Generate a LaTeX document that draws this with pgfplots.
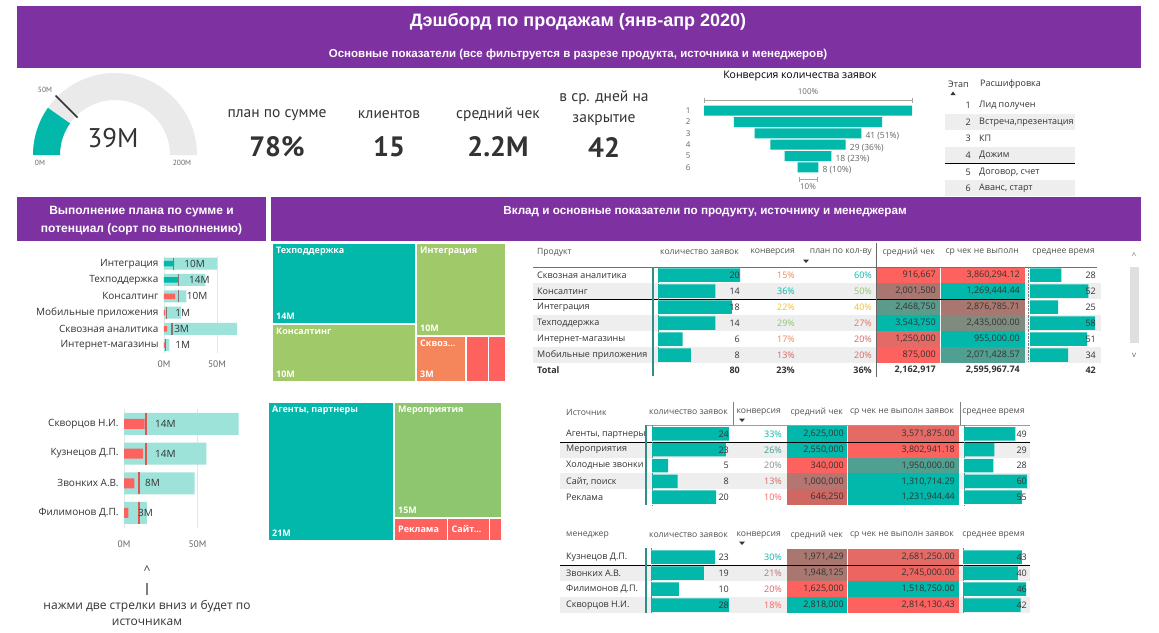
\documentclass[border=0pt]{standalone}
\usepackage{pgfplots}
\usepackage{pgfplotstable}
\pgfplotsset{compat=1.18}
\usetikzlibrary{calc}
\usepackage{fontspec}
\setmainfont{Open Sans}
\newfontfamily\hdr{Liberation Sans}
\newfontfamily\din{PT Sans}
\newcommand\fs[1]{\fontsize{#1}{#1}\selectfont}

\definecolor{pbi}{HTML}{7E31A1}
\definecolor{tl}{HTML}{01B8AA}
\definecolor{ltl}{HTML}{9DE3DA}
\definecolor{rd}{HTML}{FD625E}
\definecolor{grn}{HTML}{A0C96A}
\definecolor{grn2}{HTML}{8DC66F}
\definecolor{orn}{HTML}{F5855A}
\definecolor{rowbg}{HTML}{EEEEEE}
\definecolor{gg}{HTML}{EAEAEA}
\definecolor{txt}{HTML}{333333}
\definecolor{lbl}{HTML}{666666}
\definecolor{cOr}{HTML}{E8875F}
\definecolor{cOr2}{HTML}{E8705C}
\definecolor{cYl}{HTML}{EDC03A}
\definecolor{cGr}{HTML}{8DC66E}
\definecolor{cBr}{HTML}{A9776F}
\definecolor{cBr2}{HTML}{B57570}
\definecolor{cBr3}{HTML}{CF6763}
\definecolor{cGy}{HTML}{808B80}
\definecolor{cTg}{HTML}{5A9B8C}
\definecolor{cTg2}{HTML}{519F90}
\definecolor{cRd2}{HTML}{DA6460}
\definecolor{cRd3}{HTML}{E46A66}
\definecolor{cRd4}{HTML}{EC6560}
\definecolor{tdk}{HTML}{3D9E8F}
\definecolor{cGrey}{HTML}{8A8A8A}
\definecolor{mk}{HTML}{857575}
\definecolor{mkr}{HTML}{E0554F}
\definecolor{sep}{HTML}{2F8F88}

\pgfplotstableread{
s n lab
1 80 {}
2 57 {}
3 41 {41 (51\%)}
4 29 {29 (36\%)}
5 18 {18 (23\%)}
6 8 {8 (10\%)}
}\funnel

\pgfplotsset{
  databar/.style={scale only axis, hide axis, y dir=reverse, xmin=0, ymin=0.5, clip=false, anchor=north west},
  tbar/.style={xbar, bar width=13.5pt, bar shift=0pt, fill=tl, draw=none},
  tmap/.style={scale only axis, hide axis, y dir=reverse, xmin=0, xmax=39, ymin=0, ymax=1, clip=false, anchor=north west, width=234pt, height=139pt},
  tile/.style={draw=white, line width=1.6pt, fill=#1},
  bullet/.style={scale only axis, anchor=north west, y dir=reverse, clip=false,
    axis line style={draw=none}, major tick length=0pt,
    yticklabel style={font=\fs{10}, text=txt, xshift=-2pt},
    xtick={0,50}, xticklabels={0M,50M}, xticklabel style={font=\din\fs{9.5}, text=lbl, yshift=-4pt},
    xmajorgrids, major grid style={draw=gray!20}},
}
\tikzset{tl0/.style={text=white, font=\bfseries\fs{9}, inner sep=4pt},
  ce/.style={anchor=east, inner sep=0pt, text=txt},
  cw/.style={anchor=west, inner sep=0pt, text=txt},
  hd/.style={inner sep=0pt, text=txt!85, font=\fs{8.6}}}

\def\tabA{
275/white/Сквозная аналитика/20/15/cOr/60/tl/{916,667}/rd/{3,860,294.12}/rd/28,
291/rowbg/Консалтинг/14/36/tl/50/cGr/{2,001,500}/cBr/{1,269,444.44}/tl/52,
307/white/Интеграция/18/22/cYl/40/cYl/{2,468,750}/cTg/{2,876,785.71}/cBr/25,
323/rowbg/Техподдержка/14/29/cGr/27/cOr2/{3,543,750}/tl/{2,435,000.00}/cGy/58,
339/white/Интернет-магазины/6/17/cOr/20/cRd2/{1,250,000}/cRd3/{955,000.00}/tl/51,
355/rowbg/Мобильные приложения/8/13/cRd2/20/cRd2/{875,000}/rd/{2,071,428.57}/cTg2/34}

\def\tabB{
434/white/{Агенты, партнеры}/24/33/tl/{2,625,000}/tl/{3,571,875.00}/cRd3/49,
449.8/rowbg/Мероприятия/23/26/tdk/{2,550,000}/tl/{3,802,941.18}/rd/29,
465.6/white/Холодные звонки/5/20/cGrey/{340,000}/rd/{1,950,000.00}/cTg2/28,
481.4/rowbg/{Сайт, поиск}/8/13/cRd2/{1,000,000}/cBr2/{1,310,714.29}/tl/60,
497.2/white/Реклама/20/10/rd/{646,250}/cBr3/{1,231,944.44}/tl/55}

\def\tabC{
557/white/Кузнецов Д.П./23/30/tl/{1,971,429}/cBr/{2,681,250.00}/cRd3/43,
573/rowbg/Звонких А.В./19/21/cBr2/{1,948,125}/cBr/{2,745,000.00}/cRd4/40,
589/white/Филимонов Д.П./10/20/cRd2/{1,625,000}/rd/{1,518,750.00}/tl/46,
605/rowbg/Скворцов Н.И./28/18/rd/{2,818,000}/tl/{2,814,130.43}/rd/42}

\newcommand\bgrows[1]{%
\foreach \ry/\bg/\nm/\qv/\cv/\cvc/\av/\avc/\nv/\nvc/\tv in #1{
  \fill[\bg] (560,\ry-8) rectangle (1030,\ry+8);
  \fill[\avc] (787,\ry-8) rectangle (847,\ry+8);
  \fill[\nvc] (848,\ry-8) rectangle (959,\ry+8);
}}
\newcommand\txtrows[1]{%
\foreach \ry/\bg/\nm/\qv/\cv/\cvc/\av/\avc/\nv/\nvc/\tv in #1{
  \node[cw] at (566,\ry) {\nm};
  \node[ce] at (729,\ry) {\qv};
  \node[ce,text=\cvc] at (782,\ry) {\cv\%};
  \node[ce] at (844,\ry) {\av};
  \node[ce] at (955,\ry) {\nv};
  \node[ce] at (1027,\ry) {\tv};
}}

\begin{document}
\begin{tikzpicture}[x=1pt,y=-1pt,font=\fs{9}]
\path[use as bounding box] (0,0) rectangle (1159,632);
\fill[white] (0,0) rectangle (1159,632);

% ---------- header bands
\fill[pbi] (17,6) rectangle (1141,68);
\node[text=white,font=\hdr\bfseries\fs{18}] at (578,22) {Дэшборд по продажам (янв-апр 2020)};
\node[text=white,font=\hdr\bfseries\fs{11.5}] at (578,55) {Основные показатели (все фильтруется в разрезе продукта, источника и менеджеров)};
\fill[pbi] (17,197) rectangle (266,241);
\node[text=white,font=\hdr\bfseries\fontsize{12}{18}\selectfont,align=center] at (141.5,221) {Выполнение плана по сумме и\\потенциал (сорт по выполнению)};
\fill[pbi] (271,197) rectangle (1141,241);
\node[text=white,font=\hdr\bfseries\fs{11.7}] at (705,212) {Вклад и основные показатели по продукту, источнику и менеджерам};

% ---------- gauge (value 39M of 200M, target 50M)
\fill[gg] (33,155) arc[start angle=180,end angle=360,radius=82] -- (170,155) arc[start angle=360,end angle=180,radius=55] -- cycle;
\fill[tl] (33,155) arc[start angle=180,end angle=215.1,radius=82] -- ($(115,155)+(215.1:55)$) arc[start angle=215.1,end angle=180,radius=55] -- cycle;
\draw[line width=1.6pt, color=txt] ($(115,155)+(225:53)$) -- ($(115,155)+(225:84)$);
\node[text=lbl,font=\din\fs{7.5}] at (45,90) {50M};
\node[text=lbl,font=\din\fs{7.5}] at (40,163) {0M};
\node[text=lbl,font=\din\fs{7.5}] at (182,163) {200M};
\node[text=txt,font=\din\fs{27}] at (113,138) {39M};

% ---------- KPI cards
\node[text=txt,font=\din\fs{15.5}] at (277,115) {план по сумме};
\node[text=txt,font=\din\bfseries\fs{28}] at (277,147) {78\%};
\node[text=txt,font=\din\fs{15.5}] at (389,115) {клиентов};
\node[text=txt,font=\din\bfseries\fs{28}] at (389,147) {15};
\node[text=txt,font=\din\fs{15.5}] at (498,115) {средний чек};
\node[text=txt,font=\din\bfseries\fs{28}] at (498,147) {2.2M};
\node[text=txt,font=\din\fontsize{15.5}{21}\selectfont,align=center] at (604,108) {в ср. дней на\\закрытие};
\node[text=txt,font=\din\bfseries\fs{28}] at (604,148) {42};

% ---------- funnel
\node[text=black,font=\fs{10.5}] at (800,76) {Конверсия количества заявок};
\node[text=lbl,font=\fs{8}] at (808,92) {100\%};
\draw[gray!70] (704,100) -- (912,100) (704,97.5) -- (704,102.5) (912,97.5) -- (912,102.5);
\draw[gray!70] (799,179) -- (817,179) (799,176.5) -- (799,181.5) (817,176.5) -- (817,181.5);
\node[text=lbl,font=\fs{8}] at (808,187) {10\%};
\begin{axis}[at={(704pt,-105pt)}, anchor=north west, scale only axis, width=208pt, height=68pt,
  xmin=-40, xmax=40, ymin=0.5, ymax=6.5, y dir=reverse, clip=false,
  axis line style={draw=none}, xtick=\empty, ytick={1,2,3,4,5,6}, major tick length=0pt,
  /pgf/number format/assume math mode=true,
  yticklabel style={font=\fs{8}, text=lbl, xshift=-10pt}]
\addplot[xbar, bar width=10pt, bar shift=0pt, fill=tl, draw=none] table[x expr=\thisrow{n}/2, y=s] {\funnel};
\addplot[xbar, bar width=10pt, bar shift=0pt, fill=tl, draw=none] table[x expr=-\thisrow{n}/2, y=s] {\funnel};
\addplot[draw=none, mark=none, nodes near coords, point meta=explicit symbolic,
  nodes near coords style={anchor=west, inner sep=0pt, font=\fs{8.5}, text=lbl, xshift=4pt, yshift=-3pt}]
  table[x expr=\thisrow{n}/2, y=s, meta=lab] {\funnel};
\end{axis}

% ---------- stage legend table
\node[cw,font=\fs{9}] at (948,84) {Этап};
\node[cw,font=\fs{9}] at (980,84) {Расшифровка};
\fill[txt] (950.5,95) -- (955.5,95) -- (953,91.5) -- cycle;
\fill[rowbg] (945,114) rectangle (1075,130);
\fill[rowbg] (945,147) rectangle (1075,163);
\fill[rowbg] (945,180) rectangle (1075,196);
\draw[black, line width=0.9pt] (945,163.5) -- (1075,163.5);
\foreach \ry/\n/\s in {105/1/Лид получен, 122/2/{Встреча,презентация}, 138/3/КП, 155/4/Дожим, 172/5/{Договор, счет}, 188/6/{Аванс, старт}}{
  \node[ce,font=\fs{9}] at (971,\ry) {\n};
  \node[cw,font=\fs{9}] at (979,\ry) {\s};
}

% ---------- bullet chart: products
\begin{axis}[bullet, at={(164pt,-255.5pt)}, width=74.2pt, height=97.8pt,
  xmin=0, xmax=70, ymin=0.5, ymax=6.5, ytick={1,2,3,4,5,6},
  yticklabels={Интеграция,Техподдержка,Консалтинг,Мобильные приложения,Сквозная аналитика,Интернет-магазины}]
\addplot[xbar, bar width=12pt, bar shift=0pt, fill=ltl, draw=none] coordinates {(50,1) (39,2) (21,3) (16,4) (69,5) (5,6)};
\addplot[xbar, bar width=5.5pt, bar shift=0pt, fill=tl, draw=none] coordinates {(9.5,1) (14,2)};
\addplot[xbar, bar width=5.5pt, bar shift=0pt, fill=rd, draw=none] coordinates {(10.5,3) (1,4) (3,5) (1,6)};
\addplot[only marks, mark=|, mark size=6pt, mark options={line width=1.1pt, draw=mk}] coordinates {(9,1) (13.5,2) (14,3) (2,4) (7.5,5) (1,6)};
\addplot[draw=none, mark=none, nodes near coords, point meta=explicit symbolic,
  nodes near coords style={anchor=west, inner sep=0pt, font=\fs{10}, text=txt}]
  coordinates {(19,1) [10M] (23.5,2) [14M] (21.5,3) [10M] (10.5,4) [1M] (9.5,5) [3M] (10.5,6) [1M]};
\end{axis}

% ---------- bullet chart: managers
\begin{axis}[bullet, at={(124pt,-409pt)}, width=117.6pt, height=118.8pt,
  xmin=0, xmax=80, ymin=0.5, ymax=4.5, ytick={1,2,3,4}, xticklabel style={yshift=-5pt},
  yticklabels={Скворцов Н.И.,Кузнецов Д.П.,Звонких А.В.,Филимонов Д.П.}]
\addplot[xbar, bar width=22pt, bar shift=0pt, fill=ltl, draw=none] coordinates {(78,1) (56,2) (48,3) (15.5,4)};
\addplot[xbar, bar width=10pt, bar shift=0pt, fill=rd, draw=none] coordinates {(14,1) (13,2) (7,3) (3,4)};
\addplot[only marks, mark=|, mark size=11pt, mark options={line width=2pt, draw=mkr}] coordinates {(14.8,1) (14.8,2) (10,3) (10,4)};
\addplot[draw=none, mark=none, nodes near coords, point meta=explicit symbolic,
  nodes near coords style={anchor=west, inner sep=0pt, font=\fs{10}, text=txt}]
  coordinates {(21,1) [14M] (21,2) [14M] (14.3,3) [8M] (9.5,4) [3M]};
\end{axis}
\draw[tl, line width=1.3pt] (268.5,402) -- (268.5,540);
\node[text=txt,font=\fs{12}] at (147,570) {\textasciicircum};
\draw[gray, line width=1.6pt] (147,583) -- (147,595);
\node[text=txt,font=\fs{12}] at (147,606) {нажми две стрелки вниз и будет по};
\node[text=txt,font=\fs{12}] at (147,622) {источникам};

% ---------- treemap: products
\begin{axis}[tmap, at={(272pt,-243pt)}]
\addplot[tile=tl] coordinates {(0,0) (24,0) (24,0.583) (0,0.583)} -- cycle;
\addplot[tile=grn] coordinates {(0,0.583) (24,0.583) (24,1) (0,1)} -- cycle;
\addplot[tile=grn] coordinates {(24,0) (39,0) (39,0.667) (24,0.667)} -- cycle;
\addplot[tile=orn] coordinates {(24,0.667) (32.3,0.667) (32.3,1) (24,1)} -- cycle;
\addplot[tile=rd] coordinates {(32.3,0.667) (36.1,0.667) (36.1,1) (32.3,1)} -- cycle;
\addplot[tile=rd] coordinates {(36.1,0.667) (39,0.667) (39,1) (36.1,1)} -- cycle;
\node[tl0,anchor=north west] at (axis cs:0,0) {Техподдержка};
\node[tl0,anchor=south west] at (axis cs:0,0.583) {14M};
\node[tl0,anchor=north west] at (axis cs:0,0.583) {Консалтинг};
\node[tl0,anchor=south west] at (axis cs:0,1) {10M};
\node[tl0,anchor=north west] at (axis cs:24,0) {Интеграция};
\node[tl0,anchor=south west] at (axis cs:24,0.667) {10M};
\node[tl0,anchor=north west] at (axis cs:24,0.667) {Сквоз...};
\node[tl0,anchor=south west] at (axis cs:24,1) {3M};
\end{axis}

% ---------- treemap: sources
\begin{axis}[tmap, at={(268pt,-402pt)}]
\addplot[tile=tl] coordinates {(0,0) (21,0) (21,1) (0,1)} -- cycle;
\addplot[tile=grn2] coordinates {(21,0) (39,0) (39,0.833) (21,0.833)} -- cycle;
\addplot[tile=rd] coordinates {(21,0.833) (29.9,0.833) (29.9,1) (21,1)} -- cycle;
\addplot[tile=rd] coordinates {(29.9,0.833) (36.9,0.833) (36.9,1) (29.9,1)} -- cycle;
\addplot[tile=rd] coordinates {(36.9,0.833) (39,0.833) (39,1) (36.9,1)} -- cycle;
\node[tl0,anchor=north west] at (axis cs:0,0) {Агенты, партнеры};
\node[tl0,anchor=south west] at (axis cs:0,1) {21M};
\node[tl0,anchor=north west] at (axis cs:21,0) {Мероприятия};
\node[tl0,anchor=south west] at (axis cs:21,0.833) {15M};
\node[tl0,anchor=west] at (axis cs:21,0.9165) {Реклама};
\node[tl0,anchor=west] at (axis cs:29.9,0.9165) {Сайт...};
\end{axis}

% ---------- table 1: products
\foreach \ry/\bg/\nm/\qv/\cv/\cvc/\pl/\plc/\av/\avc/\nv/\nvc/\tv in \tabA{
  \fill[\bg] (533,\ry-8) rectangle (1101,\ry+8);
  \fill[\avc] (877,\ry-8) rectangle (939.5,\ry+8);
  \fill[\nvc] (940.5,\ry-8) rectangle (1025,\ry+8);
}
\draw[sep, line width=1pt] (533,267) -- (1097,267);
\draw[black, line width=0.9pt] (533,299) -- (1025,299);
\draw[sep, line width=1.2pt] (653,267) -- (653,376);
\draw[gray!80!black, line width=0.8pt] (876,243) -- (876,377);
\draw[gray, densely dotted] (658,267) -- (658,362) (1028,267) -- (1028,362);
\begin{axis}[databar, at={(658pt,-267pt)}, width=82pt, height=96pt, xmax=20, ymax=6.5]
\addplot[tbar] coordinates {(20,1) (14,2) (18,3) (14,4) (6,5) (8,6)};
\end{axis}
\begin{axis}[databar, at={(1030pt,-267pt)}, width=65pt, height=96pt, xmax=58, ymax=6.5]
\addplot[tbar] coordinates {(28,1) (52,2) (25,3) (58,4) (51,5) (34,6)};
\end{axis}
\foreach \ry/\bg/\nm/\qv/\cv/\cvc/\pl/\plc/\av/\avc/\nv/\nvc/\tv in \tabA{
  \node[cw] at (537,\ry) {\nm};
  \node[ce] at (740,\ry) {\qv};
  \node[ce,text=\cvc] at (795,\ry) {\cv\%};
  \node[ce,text=\plc] at (872,\ry) {\pl\%};
  \node[ce] at (936,\ry) {\av};
  \node[ce] at (1020,\ry) {\nv};
  \node[ce] at (1096,\ry) {\tv};
}
\node[hd,anchor=west] at (537,252) {Продукт};
\node[hd,anchor=east] at (739,252) {количество заявок};
\node[hd,anchor=east] at (795,252) {конверсия};
\node[hd,anchor=east] at (872,252) {план по кол-ву};
\node[hd,anchor=east] at (935,252) {средний чек};
\node[hd,anchor=east] at (1019,252) {ср чек не выполн};
\node[hd,anchor=east] at (1095,252) {среднее время};
\fill[txt] (803,259.5) -- (809,259.5) -- (806,263) -- cycle;
\begin{scope}[every node/.style={ce,font=\bfseries\fs{9}}]
\node[cw,font=\bfseries\fs{9}] at (537,370) {Total};
\node at (740,370) {80};
\node at (795,370) {23\%};
\node at (872,370) {36\%};
\node at (936,370) {2,162,917};
\node at (1020,370) {2,595,967.74};
\node at (1096,370) {42};
\end{scope}
% scrollbar
\node[text=lbl,font=\fs{8}] at (1134,256) {\textasciicircum};
\fill[gray!25] (1129.5,267) rectangle (1138.5,343);
\node[text=lbl,font=\fs{8}] at (1134,355) {v};

% ---------- table 2: sources
\bgrows{\tabB}
\draw[black, line width=0.9pt] (560,442) -- (1030,442);
\draw[sep!70, line width=0.8pt] (646,425) -- (1030,425);
\draw[sep, line width=1.2pt] (646,425) -- (646,505);
\draw[gray, line width=0.6pt] (733,402) -- (733,425) (960,402) -- (960,425);
\draw[gray, densely dotted] (652,425) -- (652,505) (964,425) -- (964,505);
\begin{axis}[databar, at={(652pt,-426pt)}, width=77pt, height=79pt, xmax=24, ymax=5.5]
\addplot[tbar] coordinates {(24,1) (23,2) (5,3) (8,4) (20,5)};
\end{axis}
\begin{axis}[databar, at={(964pt,-426pt)}, width=63pt, height=79pt, xmax=60, ymax=5.5]
\addplot[tbar] coordinates {(49,1) (29,2) (28,3) (60,4) (55,5)};
\end{axis}
\txtrows{\tabB}
\node[hd,anchor=west] at (566,412) {Источник};
\node[hd,anchor=east] at (728,412) {количество заявок};
\node[hd,anchor=east] at (781,412) {конверсия};
\node[hd,anchor=east] at (843,412) {средний чек};
\node[hd,anchor=east] at (954,412) {ср чек не выполн заявок};
\node[hd,anchor=east] at (1025,412) {среднее время};
\fill[txt] (739,418.5) -- (745,418.5) -- (742,422) -- cycle;

% ---------- table 3: managers
\bgrows{\tabC}
\draw[black, line width=0.9pt] (560,565) -- (1030,565);
\draw[sep, line width=1.2pt] (646,548) -- (646,613);
\draw[gray, densely dotted] (651,548) -- (651,613) (963,548) -- (963,613);
\begin{axis}[databar, at={(651pt,-549pt)}, width=78pt, height=64pt, xmax=28, ymax=4.5]
\addplot[tbar] coordinates {(23,1) (19,2) (10,3) (28,4)};
\end{axis}
\begin{axis}[databar, at={(963pt,-549pt)}, width=63pt, height=64pt, xmax=46, ymax=4.5]
\addplot[tbar] coordinates {(43,1) (40,2) (46,3) (42,4)};
\end{axis}
\txtrows{\tabC}
\node[hd,anchor=west] at (566,535) {менеджер};
\node[hd,anchor=east] at (728,535) {количество заявок};
\node[hd,anchor=east] at (781,535) {конверсия};
\node[hd,anchor=east] at (843,535) {средний чек};
\node[hd,anchor=east] at (954,535) {ср чек не выполн заявок};
\node[hd,anchor=east] at (1025,535) {среднее время};
\fill[txt] (739,541.5) -- (745,541.5) -- (742,545) -- cycle;
\end{tikzpicture}
\end{document}
